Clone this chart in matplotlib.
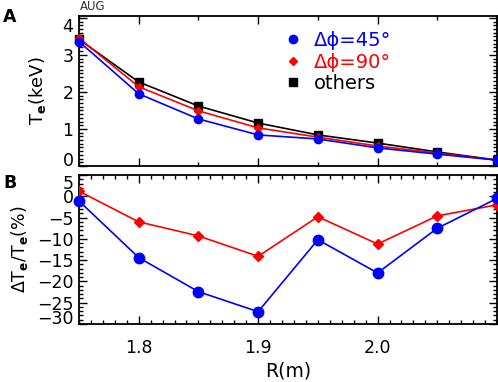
import matplotlib
matplotlib.use('Agg')
import matplotlib.pyplot as plt
from matplotlib.lines import Line2D
from matplotlib.ticker import MultipleLocator

plt.rcParams['font.family'] = ['DejaVu Sans']
plt.rcParams['mathtext.fontset'] = 'dejavusans'

# Radius points
R = [1.75, 1.80, 1.85, 1.90, 1.95, 2.00, 2.05, 2.10]

# Te (keV)
te_45 = [3.36, 1.95, 1.27, 0.84, 0.73, 0.49, 0.32, 0.16]
te_90 = [3.45, 2.14, 1.49, 1.03, 0.78, 0.54, 0.35, 0.16]
te_other = [3.42, 2.27, 1.62, 1.16, 0.84, 0.62, 0.38, 0.16]

# dTe/Te (%)
d_45 = [-1.1, -14.4, -22.4, -27.1, -10.2, -18.0, -7.5, -0.5]
d_90 = [1.2, -6.0, -9.3, -14.1, -4.8, -11.2, -4.6, -2.0]

fig = plt.figure(figsize=(4.98, 3.82), dpi=100)
ax1 = fig.add_axes([0.1586, 0.5654, 0.8394, 0.3927])
ax2 = fig.add_axes([0.1586, 0.1518, 0.8394, 0.3900])

ax1.plot(R, te_other, color='black', lw=1.2, marker='s', ms=5.5, clip_on=False, zorder=3)
ax1.plot(R, te_90, color='red', lw=1.2, marker='D', ms=4, clip_on=False, zorder=4)
ax1.plot(R, te_45, color='blue', lw=1.2, marker='o', ms=6, clip_on=False, zorder=5)

ax2.plot(R, d_90, color='red', lw=1.2, marker='D', ms=5, zorder=4)
ax2.plot(R, d_45, color='blue', lw=1.2, marker='o', ms=7.5, clip_on=False, zorder=5)

for ax in (ax1, ax2):
    ax.set_xlim(1.75, 2.1)
    ax.xaxis.set_major_locator(MultipleLocator(0.1))
    ax.tick_params(which='both', direction='in', top=True, right=True, labelsize=12.5)
    ax.tick_params(axis='y', pad=4)
    ax.tick_params(axis='x', pad=11)
    ax.tick_params(which='major', length=6, width=1)
    ax.tick_params(which='minor', length=3, width=1)
    for s in ax.spines.values():
        s.set_linewidth(1.3)

ax1.xaxis.set_minor_locator(MultipleLocator(0.05))
ax1.set_xticklabels([])
ax1.set_ylim(0, 4.05)
ax1.yaxis.set_major_locator(MultipleLocator(1))
ax1.yaxis.set_minor_locator(MultipleLocator(0.1))
ax1.set_ylabel(r'T$_\mathbf{e}$(keV)', fontsize=13)
ax1.yaxis.set_label_coords(-0.074, 0.5)

ax2.xaxis.set_minor_locator(MultipleLocator(0.01))
ax2.set_ylim(-30, 5)
ax2.yaxis.set_major_locator(MultipleLocator(5))
ax2.yaxis.set_minor_locator(MultipleLocator(1))
ax2.set_xticks([1.8, 1.9, 2.0])
ax2.set_xticklabels(['1.8', '1.9', '2.0'])
ax2.set_ylabel(r'$\Delta$T$_\mathbf{e}$/T$_\mathbf{e}$(%)', fontsize=12.5)
ax2.yaxis.set_label_coords(-0.117, 0.5)
ax2.set_xlabel('R(m)', fontsize=13.5, labelpad=3)

# IDL-style placement of the end labels (keep them inside the panel)
fig.canvas.draw()
for ax, lo, hi in ((ax1, 0, 4), (ax2, -30, 5)):
    for t in ax.yaxis.get_major_ticks():
        if abs(t.get_loc() - lo) < 1e-9:
            t.label1.set_va('baseline')
        elif abs(t.get_loc() - hi) < 1e-9:
            t.label1.set_va('top')

handles = [
    Line2D([], [], color='blue', marker='o', ms=6, ls='none'),
    Line2D([], [], color='red', marker='D', ms=4, ls='none'),
    Line2D([], [], color='black', marker='s', ms=5.5, ls='none'),
]
labels = ['Δϕ=45°', 'Δϕ=90°', 'others']
leg = ax1.legend(handles, labels, loc='upper left', bbox_to_anchor=(0.47, 0.95),
                 frameon=False, fontsize=14, handlelength=1.0, handletextpad=0.6,
                 labelspacing=0.12, borderaxespad=0)
for txt, c in zip(leg.get_texts(), ['blue', 'red', 'black']):
    txt.set_color(c)

fig.text(80 / 498, 1 - 7 / 382, 'AUG', fontsize=8.5, color='#333333', va='center', ha='left')
fig.text(3 / 498, 1 - 17 / 382, 'A', fontsize=12.5, fontweight='bold', va='center', ha='left')
fig.text(3 / 498, 1 - 183 / 382, 'B', fontsize=12.5, fontweight='bold', va='center', ha='left')

fig.savefig('out.png', dpi=100)
